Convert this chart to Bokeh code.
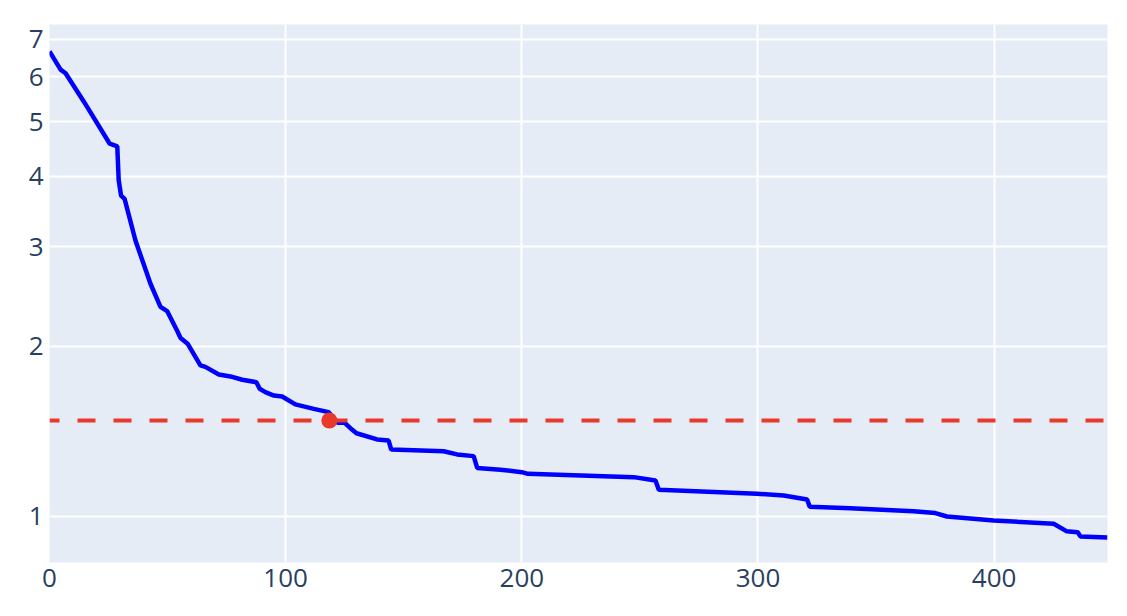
from bokeh.plotting import figure
from bokeh.models import FixedTicker, PrintfTickFormatter, Span, Range1d
from bokeh.embed import file_html
from bokeh.resources import INLINE

# Curve (index vs value)
curve_x = [0, 4.7, 6.8, 14.5, 25.5, 28.7, 29.3, 30.3, 31.8, 36.4, 42.8, 47.0, 49.8,
           54.1, 55.5, 58.6, 63.9, 66.0, 71.7, 76.6, 81.6, 87.6, 89.0, 91.4, 95.0,
           98.5, 104.1, 111.9, 118.2, 122.0, 125.0, 128.2, 130.0, 138.7, 143.6, 144.7,
           166.9, 172.6, 179.6, 181.1, 190.9, 200.0, 202.6, 247.4, 256.6, 258.0,
           299.6, 310.9, 320.8, 321.9, 339.1, 365.9, 375.1, 380.0, 399.8, 425.2,
           430.6, 435.4, 436.5, 448.0]
curve_y = [6.66, 6.18, 6.09, 5.43, 4.57, 4.52, 3.94, 3.70, 3.65, 3.08, 2.58, 2.35, 2.31,
           2.13, 2.07, 2.02, 1.851, 1.84, 1.784, 1.77, 1.746, 1.729, 1.683, 1.660, 1.637,
           1.631, 1.579, 1.551, 1.530, 1.465, 1.465, 1.424, 1.404, 1.369, 1.363, 1.314,
           1.305, 1.288, 1.279, 1.219, 1.210, 1.198, 1.190, 1.174, 1.158, 1.115,
           1.097, 1.089, 1.072, 1.041, 1.034, 1.022, 1.014, 1.000, 0.984, 0.971,
           0.942, 0.938, 0.922, 0.918]

threshold = 1.479
cross_x = [118.5]
cross_y = [1.479]

x_ticks = [0, 100, 200, 300, 400]
y_ticks = [1, 2, 3, 4, 5, 6, 7]

p = figure(width=1119, height=608, y_axis_type="log",
           x_range=Range1d(0, 448), y_range=Range1d(0.829, 7.43),
           output_backend="svg", toolbar_location=None,
           min_border_left=49, min_border_top=24, min_border_right=12, min_border_bottom=46)

p.background_fill_color = "#E5ECF6"
p.border_fill_color = "white"
p.outline_line_color = None

for ax in (p.xaxis, p.yaxis):
    ax.axis_line_color = None
    ax.major_tick_line_color = None
    ax.minor_tick_line_color = None
    ax.major_tick_out = 0
    ax.major_tick_in = 0
    ax.minor_tick_out = 0
    ax.minor_tick_in = 0
    ax.major_label_text_font = "Open Sans"
    ax.major_label_text_font_size = "26px"
    ax.major_label_text_color = "#2a3f5f"

p.xaxis.ticker = FixedTicker(ticks=x_ticks)
p.yaxis.ticker = FixedTicker(ticks=y_ticks)
p.yaxis.formatter = PrintfTickFormatter(format="%d")
p.xaxis.major_label_standoff = 6
p.yaxis.major_label_standoff = 6

p.xgrid.ticker = FixedTicker(ticks=x_ticks)
p.ygrid.ticker = FixedTicker(ticks=y_ticks)
p.grid.grid_line_color = "white"
p.grid.grid_line_width = 2
p.ygrid.minor_grid_line_color = None

p.line(curve_x, curve_y, line_color="#0000FF", line_width=4.5)

span = Span(location=threshold, dimension="width", line_color="#E9392B",
            line_width=4, line_dash="18 18", line_dash_offset=8)
p.add_layout(span)

p.scatter(cross_x, cross_y, size=16, fill_color="#E9392B", line_color=None)

open("out.html", "w").write(file_html(p, INLINE))
